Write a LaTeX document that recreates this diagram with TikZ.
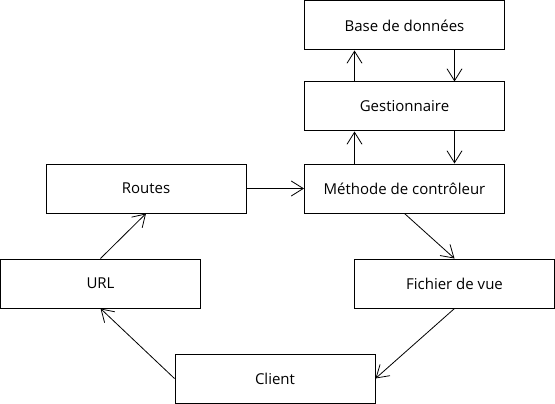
\documentclass[tikz,border=0pt]{standalone}
\usepackage{fontspec}
\setmainfont{Open Sans}
\usepackage{tikz}
\usetikzlibrary{positioning,arrows.meta}

\begin{document}
\begin{tikzpicture}[->,>={Straight Barb[length=12pt,width=15pt]},line width=0.8pt,x=1pt,y=-1pt]
    \tikzstyle{bloc}=[rectangle,draw,line width=1pt,minimum width=200pt,minimum height=49pt,inner sep=0pt,font=\fontsize{15}{18}\selectfont]

    \useasboundingbox (0,0) rectangle (555,404);

    \node[bloc] (bdd)    at (404.5,25.5)  {Base de données};
    \node[bloc] (gest)   at (404.5,106.5) {Gestionnaire};
    \node[bloc] (meth)   at (404.5,188.5) {Méthode de contrôleur};
    \node[bloc] (routes) at (146,188.5)   {Routes};
    \node[bloc] (url)    at (100.5,283.5) {URL};
    \node[bloc] (vue)    at (454.5,283.5) {Fichier de vue};
    \node[bloc] (client) at (275,378.5)   {Client};

    \foreach \a/\b in {gest/bdd,meth/gest} {
        \draw ([xshift=-50pt]\a.north) -- ([xshift=-50pt]\b.south);
        \draw ([xshift=50pt]\b.south) -- ([xshift=50pt]\a.north);
    }

    \draw (routes) -- (meth);
    \draw (meth.south) -- (vue.north);
    \draw (vue.south) -- (client.east);
    \draw (client.west) -- (url.south);
    \draw (url.north) -- (routes.south);
\end{tikzpicture}
\end{document}
